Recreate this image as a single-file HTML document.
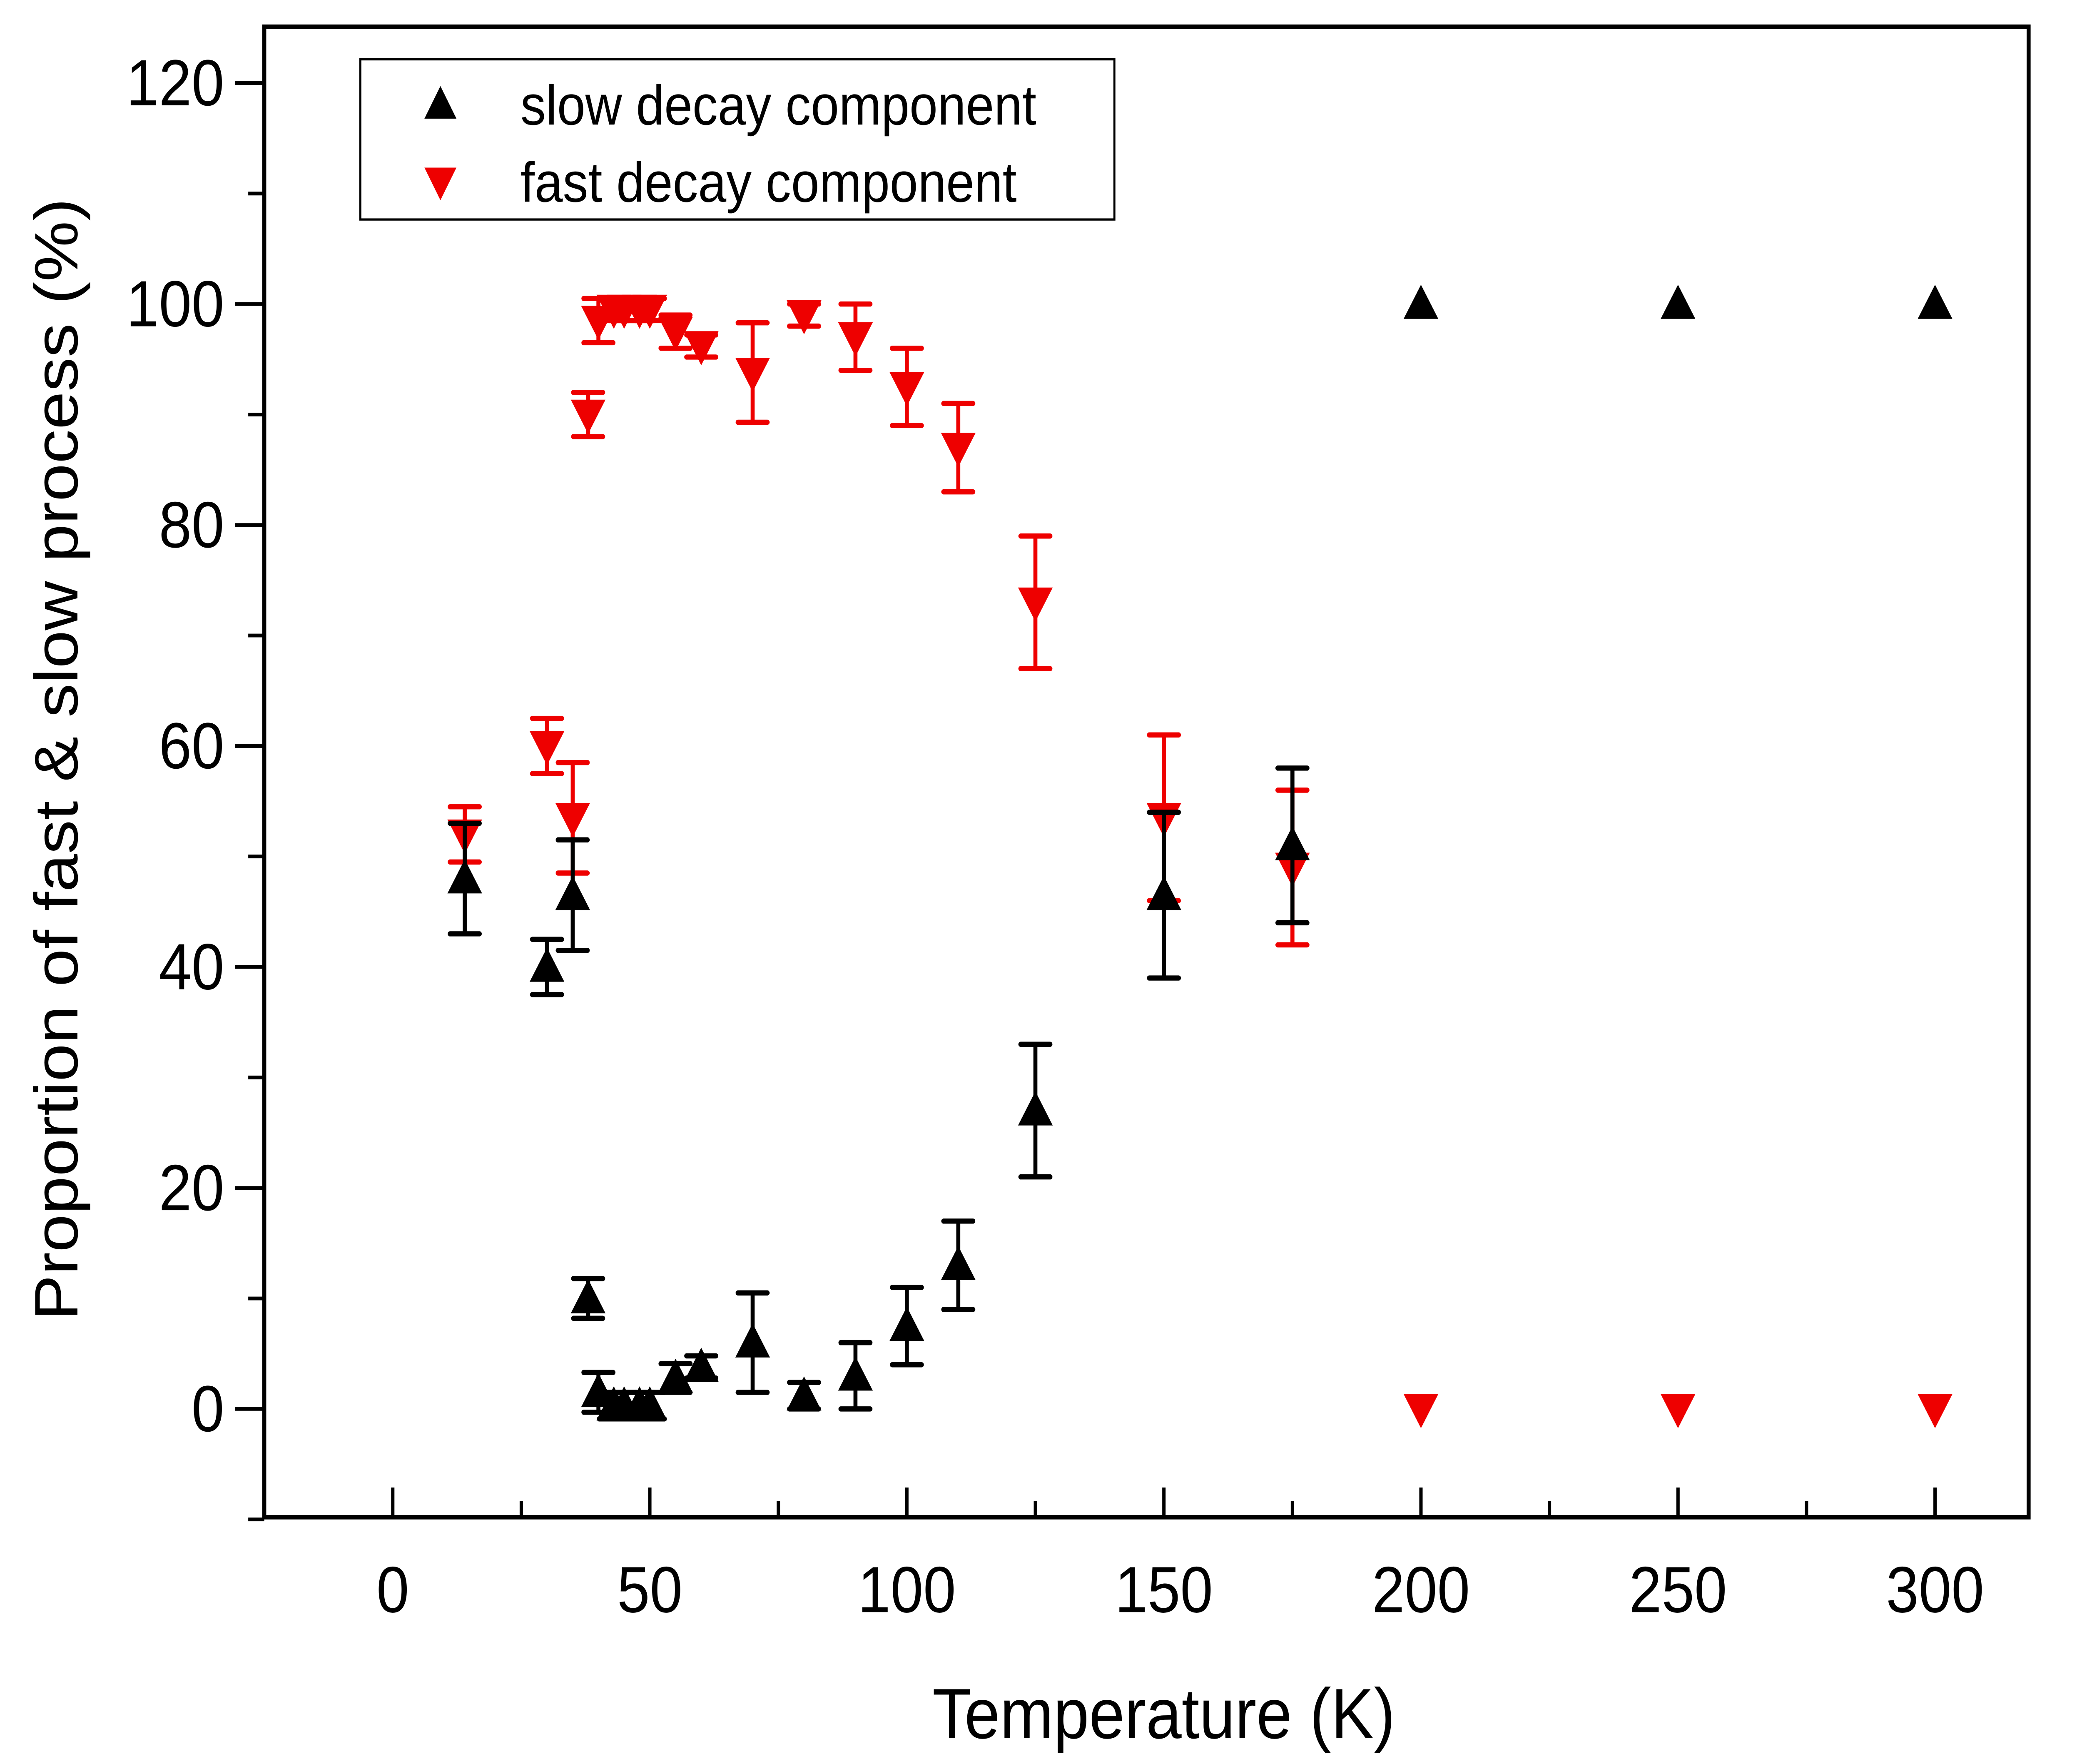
<!DOCTYPE html>
<html><head><meta charset="utf-8"><style>
html,body{margin:0;padding:0;background:#fff;width:100%;height:100%;overflow:hidden;}
svg{display:block;width:100vw;height:100vh;}
text{font-family:"Liberation Sans",Arial,sans-serif;}
</style></head><body>
<svg id="chart" viewBox="0 0 1560 1189.4" preserveAspectRatio="none" xmlns="http://www.w3.org/2000/svg">
<rect width="1560" height="1189.4" fill="#fff"/>
<g id="axes"></g>
<g id="marks"></g>
<g id="legend">
<rect x="270" y="40" width="565" height="108" fill="#fff" stroke="#000" stroke-width="1.5"/>
<polygon points="330,58 318,80 342,80" fill="#000"/>
<text x="390" y="84" font-size="38">slow decay component</text>
<polygon points="318,113 342,113 330,135" fill="#e00"/>
<text x="390" y="136" font-size="38">fast decay component</text>
</g>
</svg>
<script>
const temps = [14,30,35,38,40,43,45,48,50,55,60,70,80,90,100,110,125,150,175,200,250,300];
const slowVals = [48,40,46.5,10,1.5,0.3,0.3,0.3,0.3,2.8,3.8,6,1.2,3,7.5,13,27,46.5,51,100,100,100];
const slowErr = [5,2.5,5,1.8,1.8,1.2,1.2,1.2,1.2,1.3,1,4.5,1.2,3,3.5,4,6,7.5,7,0,0,0];
const fastVals = [52,60,53.5,90,98.5,99.5,99.5,99.5,99.5,97.5,96.2,93.8,99,97,92.5,87,73,53.5,49,0,0,0];
const fastErr = [2.5,2.5,5,2,2,1,1,1,1,1.5,1,4.5,1,3,3.5,4,6,7.5,7,0,0,0];
const xTicks = [0,50,100,150,200,250,300];
const yTicks = [0,20,40,60,80,100,120];

const NS="http://www.w3.org/2000/svg";
const L=198,R=1520,T=18,B=1023;
const xMin=-25,xMax=318.2,yMin=-9.8,yMax=125.1;
function xs(v){return L+(v-xMin)/(xMax-xMin)*(R-L);}
function ys(v){return B-(v-yMin)/(yMax-yMin)*(B-T);}
function mk(tag,attrs,parent){const e=document.createElementNS(NS,tag);for(const k in attrs)e.setAttribute(k,attrs[k]);parent.appendChild(e);return e;}
const axes=document.getElementById('axes'),marks=document.getElementById('marks');
const frame=mk('rect',{x:L,y:T,width:R-L,height:B-T,fill:'none',stroke:'#000','stroke-width':3},axes);


for(let v=-10;v<=120;v+=10){
  const major=v%20===0;
  const t=mk('line',{x1:L-(major?22:12),x2:L,y1:ys(v),y2:ys(v),stroke:'#000','stroke-width':2.5},axes);
  
  
}
yTicks.forEach(v=>{
  const t=mk('text',{x:168,y:ys(v)+15,'font-size':44,'text-anchor':'end'},axes);
  t.textContent=v;
  
  
});
for(let v=-25;v<=300;v+=25){
  const major=v%50===0;
  const t=mk('line',{x1:xs(v),x2:xs(v),y1:B,y2:B-(major?20:11),stroke:'#000','stroke-width':2.5},axes);
  
  
}
xTicks.forEach(v=>{
  const t=mk('text',{x:xs(v),y:1087,'font-size':44,'text-anchor':'middle'},axes);
  t.textContent=v;
  
  
});
const xt=mk('text',{x:872,y:1172,'font-size':48,'text-anchor':'middle'},axes);
xt.textContent='Temperature (K)';


const yt=mk('text',{x:0,y:0,'font-size':46,'text-anchor':'middle',transform:'translate(58,512) rotate(-90)'},axes);
yt.textContent='Proportion of fast & slow process (%)';



function drawSeries(vals,errs,color,up,name){
  temps.forEach((t,i)=>{
    const cx=xs(t),cy=ys(vals[i]);
    const g=mk('g',{},marks);
    
    
    if(errs[i]>0){
      const y1=ys(vals[i]+errs[i]),y2=ys(vals[i]-errs[i]);
      mk('line',{x1:cx,x2:cx,y1:y1,y2:y2,stroke:color,'stroke-width':3},g);
      mk('line',{x1:cx-11,x2:cx+11,y1:y1,y2:y1,stroke:color,'stroke-width':3.5,'stroke-linecap':'round'},g);
      mk('line',{x1:cx-11,x2:cx+11,y1:y2,y2:y2,stroke:color,'stroke-width':3.5,'stroke-linecap':'round'},g);
    }
    const pts=up?`${cx},${cy-13} ${cx-13},${cy+10} ${cx+13},${cy+10}`:`${cx-13},${cy-10} ${cx+13},${cy-10} ${cx},${cy+13}`;
    mk('polygon',{points:pts,fill:color},g);
  });
}
drawSeries(fastVals,fastErr,'#e00',false,'fast-decay');
drawSeries(slowVals,slowErr,'#000',true,'slow-decay');
</script>
</body></html>
